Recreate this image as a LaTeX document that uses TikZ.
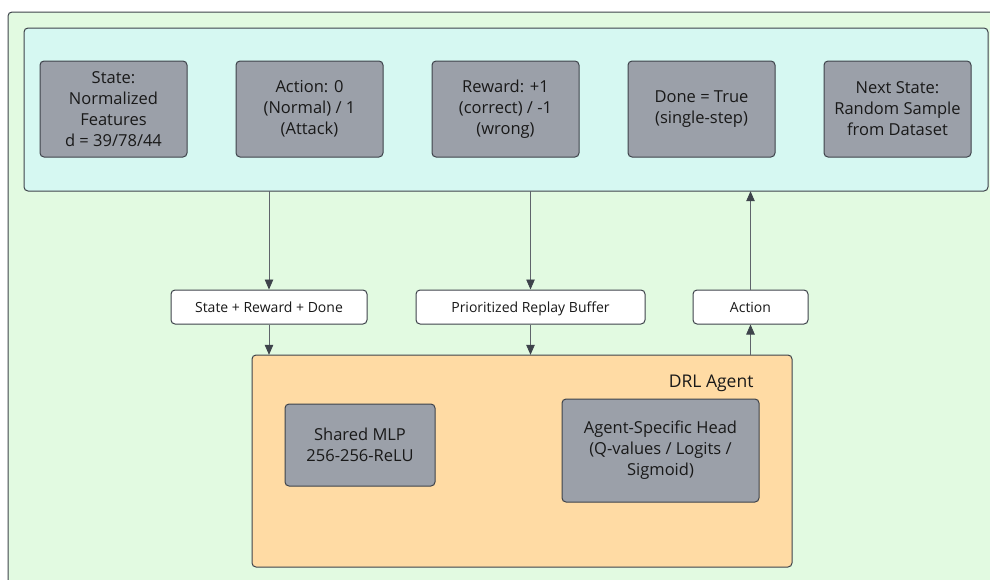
\documentclass[tikz,border=0pt]{standalone}
\usepackage{fontspec}
\setmainfont{Open Sans}
\usetikzlibrary{arrows.meta, positioning, fit, calc}
\definecolor{outergreen}{HTML}{E2FAE1}
\definecolor{envcyan}{HTML}{D6F8F2}
\definecolor{agentorange}{HTML}{FFDBA4}
\definecolor{cellgrey}{HTML}{9BA0A9}
\definecolor{edge}{HTML}{3E434B}
\definecolor{wire}{HTML}{5F646B}
\tikzset{
  panel/.style={rectangle, rounded corners=4pt, draw=edge, line width=1pt},
  cell/.style={rectangle, rounded corners=4pt, draw=edge, line width=1pt, fill=cellgrey,
    minimum width=147pt, minimum height=96pt, align=center, inner sep=2pt,
    font=\fontsize{16.5}{21}\selectfont, text=black!90},
  tag/.style={rectangle, rounded corners=4pt, draw=edge, line width=1pt, fill=white,
    minimum height=34pt, text height=10pt, text depth=0pt,
    font=\fontsize{14}{16}\selectfont, text=black!90},
  arrow/.style={-{Triangle[length=10pt, width=8.5pt, color=edge]}, line width=0.8pt, wire},
}

\begin{document}
\begin{tikzpicture}[x=1pt, y=-1pt, node distance=48pt]
\useasboundingbox (0,0) rectangle (990,579);
\clip (0,0) rectangle (990,579);
% background panels
\draw[panel, fill=outergreen] (8,12) rectangle (1010,600);
\draw[panel, fill=envcyan] (24,28) rectangle (988,191);
\node[inner sep=0pt, fit={(24,28) (988,191)}] (env) {};
\draw[panel, fill=agentorange] (252,355) rectangle (792,567);
\node[inner sep=0pt, fit={(252,355) (792,567)}] (agent) {};
\node[anchor=east, font=\fontsize{17.5}{20}\selectfont, text=black!90] at (757,383) {DRL Agent};
% environment tuple
\node[cell] (s1) at (113.5,109) {State:\\Normalized\\Features\\d = 39/78/44};
\node[cell, right=of s1] (s2) {Action: 0\\(Normal) / 1\\(Attack)};
\node[cell, right=of s2] (s3) {Reward: +1\\(correct) / -1\\(wrong)};
\node[cell, right=of s3] (s4) {Done = True\\(single-step)};
\node[cell, right=of s4] (s5) {Next State:\\Random Sample\\from Dataset};
% agent internals
\node[cell, minimum width=150pt, minimum height=82pt] (mlp) at (360,445) {Shared MLP\\256-256-ReLU};
\node[cell, minimum width=197pt, minimum height=103pt] (head) at (660.5,450.5) {Agent-Specific Head\\(Q-values / Logits /\\Sigmoid)};
% transition labels
\node[tag, minimum width=196pt] (obs) at (269,307) {State + Reward + Done};
\node[tag, minimum width=229pt] (buf) at (530.5,307) {Prioritized Replay Buffer};
\node[tag, minimum width=115pt] (act) at (750.5,307) {Action};
\foreach \t in {obs,buf}{
  \draw[arrow] (env.south -| \t) -- (\t.north);
  \draw[arrow] (\t.south) -- (agent.north -| \t);
}
\draw[arrow] (agent.north -| act) -- (act.south);
\draw[arrow] (act.north) -- (env.south -| act);
\end{tikzpicture}
\end{document}
